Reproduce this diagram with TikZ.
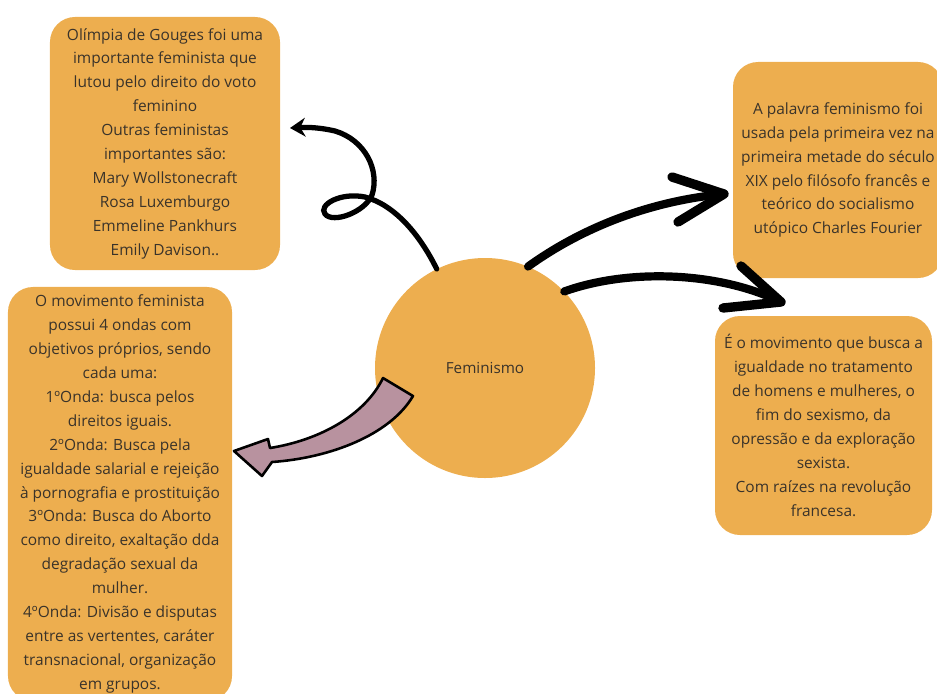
\documentclass[tikz,border=0pt]{standalone}
\usepackage{fontspec}
\setmainfont{Open Sans}
\usetikzlibrary{arrows.meta,calc}

\begin{document}
\begin{tikzpicture}[x=0.03cm, y=-0.03cm,
    infobox/.style={fill=boxColor, rounded corners=0.75cm, align=center, text=textColor, inner sep=0pt, font=\fontsize{13.2}{20.4}\selectfont},
    brush/.style={line width=7pt, line cap=round, line join=round}]
    % Color Palette
    \definecolor{boxColor}{HTML}{EDAE4F}
    \definecolor{textColor}{HTML}{3A332A}
    \definecolor{pinkColor}{HTML}{B8929F}

    \useasboundingbox (0,0) rectangle (937,693);
    \clip (0,0) rectangle (937,693);

    % --- Central circle ---
    \node[circle, fill=boxColor, minimum size=6.6cm, text=textColor, font=\fontsize{13}{16}\selectfont] (fem) at (485,368) {Feminismo};

    % --- Boxes ---
    \node[infobox, minimum width=6.9cm, minimum height=7.59cm] (gouges) at (165,143.5) {Olímpia de Gouges foi uma\\ importante feminista que\\ lutou pelo direito do voto\\ feminino\\ Outras feministas\\ importantes são:\\ Mary Wollstonecraft\\ Rosa Luxemburgo\\ Emmeline Pankhurs\\ Emily Davison..};

    \node[infobox, minimum width=6.72cm, minimum height=12.42cm] (ondas) at (120,494) {O movimento feminista\\ possui 4 ondas com\\ objetivos próprios, sendo\\ cada uma:\\ 1ºOnda: busca pelos\\ direitos iguais.\\ 2ºOnda: Busca pela\\ igualdade salarial e rejeição\\ à pornografia e prostituição\\ 3ºOnda: Busca do Aborto\\ como direito, exaltação dda\\ degradação sexual da\\ mulher.\\ 4ºOnda: Divisão e disputas\\ entre as vertentes, caráter\\ transnacional, organização\\ em grupos.};

    \node[infobox, minimum width=6.3cm, minimum height=6.48cm] (palavra) at (838,170) {A palavra feminismo foi\\ usada pela primeira vez na\\ primeira metade do século\\ XIX pelo filósofo francês e\\ teórico do socialismo\\ utópico Charles Fourier};

    \node[infobox, minimum width=6.51cm, minimum height=6.57cm] (movimento) at (823.5,425.5) {É o movimento que busca a\\ igualdade no tratamento\\ de homens e mulheres, o\\ fim do sexismo, da\\ opressão e da exploração\\ sexista.\\ Com raízes na revolução\\ francesa.};

    % Arrow ends
    \coordinate (curlEnd) at (290,128);
    \coordinate (tipA) at (724,194);
    \coordinate (tipB) at (781,302);

    % Curly arrow to the top-left box
    \draw[line width=4.5pt, line cap=round, -{Stealth[length=13pt, width=16pt]}] (fem.116) .. controls (420,235) and (395,205) .. (365,197)
        .. controls (340,192) and (318,205) .. (325,214)
        .. controls (333,224) and (365,212) .. (372,195)
        .. controls (380,170) and (365,140) .. (335,131)
        .. controls (322,128) and (310,127) .. (curlEnd);

    % Brush arrows to the right boxes
    \draw[brush] (fem.67) .. controls (590,222) and (660,200) .. (tipA);
    \draw[brush, line width=8pt] ($(tipA)+(-52,-17)$) -- (tipA) -- ($(tipA)+(-46,28)$);

    \draw[brush] (fem.44) .. controls (630,268) and (720,272) .. (tipB);
    \draw[brush, line width=8pt] ($(tipB)+(-40,-36)$) -- (tipB) -- ($(tipB)+(-58,6)$);

    % Pink block arrow to the bottom-left box
    \coordinate (pinkTip) at (234,451);
    \draw[line width=2.2pt, fill=pinkColor, line join=round] (383,378) -- (413,396)
        .. controls (390,435) and (330,458) .. (272,462)
        -- (262,476) -- (pinkTip) -- (268,439) -- (270,448)
        .. controls (320,440) and (365,415) .. cycle;

\end{tikzpicture}
\end{document}
